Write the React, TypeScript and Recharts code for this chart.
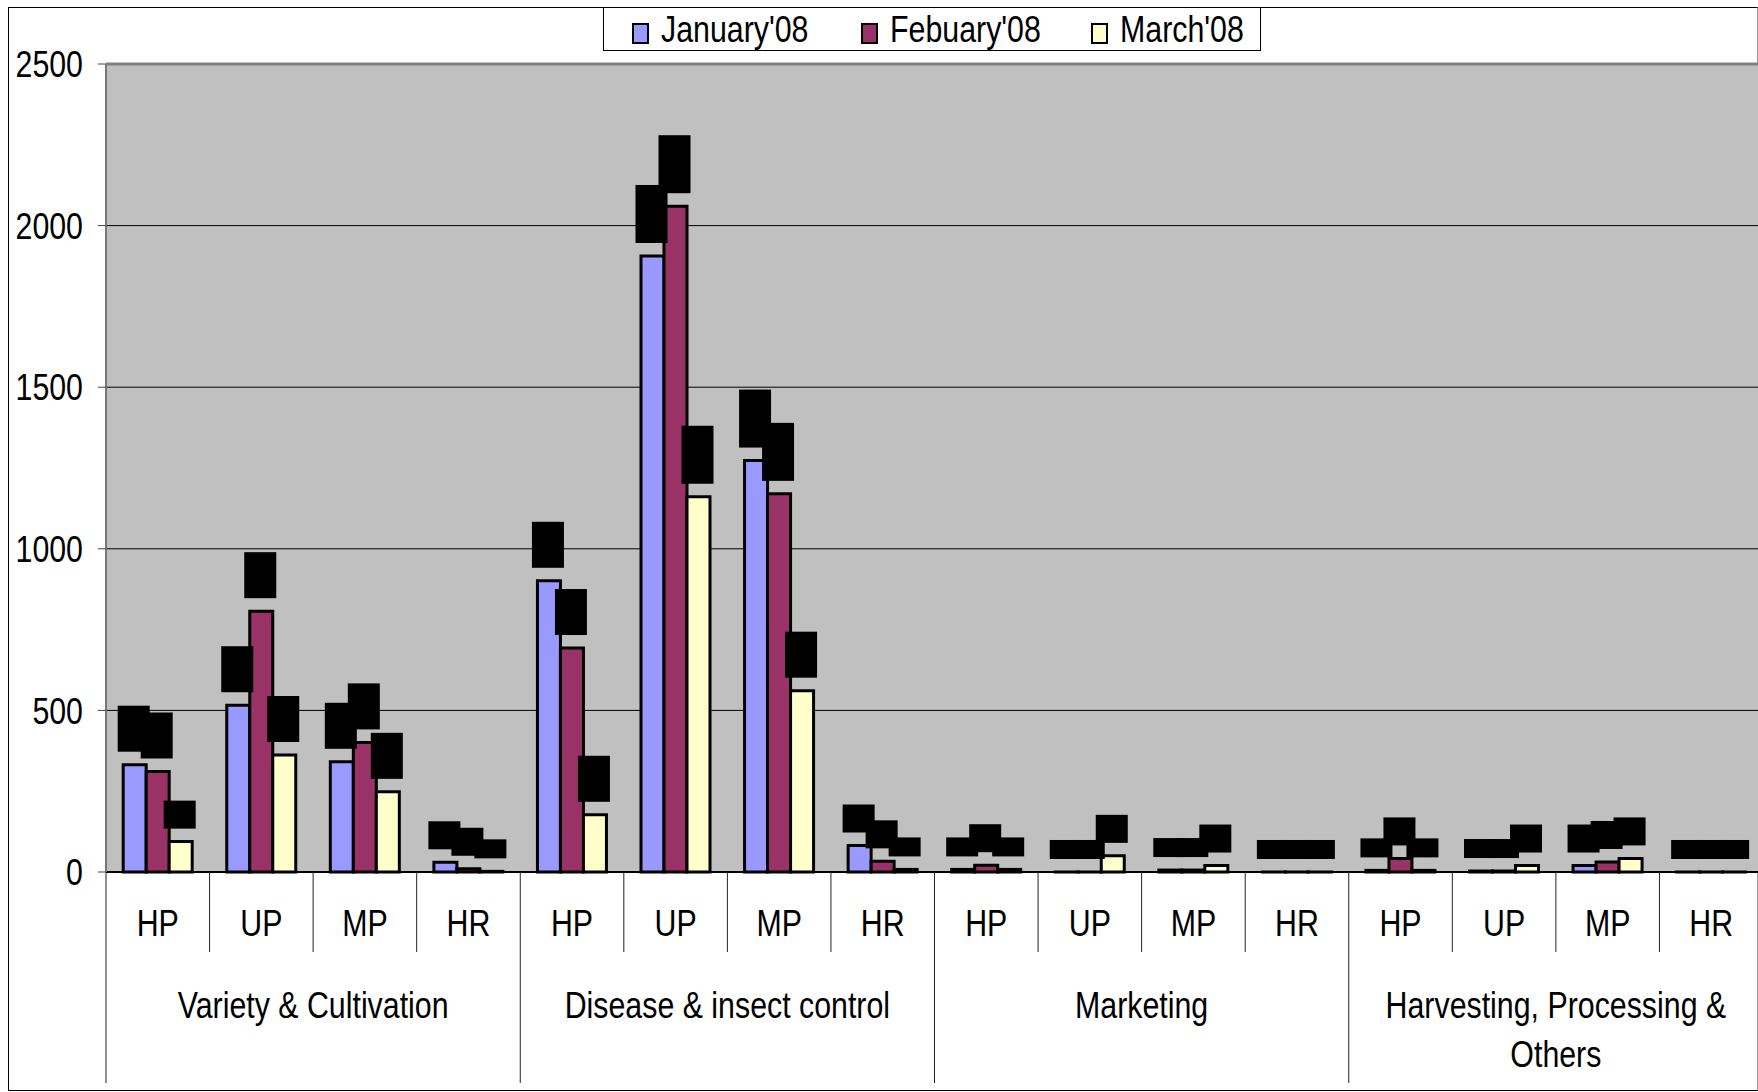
import React from "react";
import {
  BarChart,
  Bar,
  XAxis,
  YAxis,
  CartesianGrid,
  Legend,
  LabelList,
  ReferenceLine,
} from "recharts";

const groups = [
  "Variety & Cultivation",
  "Disease & insect control",
  "Marketing",
  "Harvesting, Processing & Others",
];
const regions = ["HP", "UP", "MP", "HR"];

const january = [332, 516, 341, 30, 901, 1906, 1273, 82, 8, 0, 6, 0, 5, 3, 20, 0];
const february = [311, 807, 401, 10, 693, 2060, 1170, 33, 21, 0, 6, 0, 42, 3, 31, 0];
const march = [94, 362, 248, 2, 177, 1161, 561, 8, 8, 50, 20, 0, 5, 20, 42, 0];

const yTicks = [0, 500, 1000, 1500, 2000, 2500];

const series = [
  { key: "jan", name: "January'08", color: "#9999FF" },
  { key: "feb", name: "Febuary'08", color: "#993366" },
  { key: "mar", name: "March'08", color: "#FFFFCC" },
];

const data = january.map((_, i) => ({
  key: `${groups[Math.floor(i / 4)]} ${regions[i % 4]}`,
  region: regions[i % 4],
  jan: january[i],
  feb: february[i],
  mar: march[i],
}));

// no narrow face installed, so Liberation Sans gets squeezed horizontally
const FONT = '"Liberation Sans", Arial, sans-serif';
const SQUEEZE = 0.82;
const FONT_SIZE = 37;

const WIDTH = 1758;
const HEIGHT = 1092;
// the plot runs a few pixels past the right edge of the page
const CHART_WIDTH = 1766;
const PLOT_LEFT = 106;
const PLOT_RIGHT = 1763;
const PLOT_TOP = 64;
const PLOT_BOTTOM = 872;
const BAND = (PLOT_RIGHT - PLOT_LEFT) / data.length;

const NarrowText = ({ x, y, anchor = "middle", children }: any) => (
  <text
    transform={`translate(${x} ${y}) scale(${SQUEEZE} 1)`}
    textAnchor={anchor}
    dominantBaseline="central"
    fontSize={FONT_SIZE}
    fontFamily={FONT}
    fill="#000"
  >
    {children}
  </text>
);

// greedy word wrap using an average glyph width of the squeezed font
const wrapLabel = (label: string, maxWidth: number) => {
  const lines: string[] = [];
  let line = "";
  label.split(" ").forEach((word) => {
    const next = line ? `${line} ${word}` : word;
    if (next.length * 15 > maxWidth && line) {
      lines.push(line);
      line = word;
    } else {
      line = next;
    }
  });
  lines.push(line);
  return lines;
};

// two-level category axis: region under each band, group name under every four
const CategoryTick = (props: any) => {
  const { x, index } = props;
  const half = BAND / 2;
  const endOfGroup = index % 4 === 3;
  return (
    <g>
      {index === 0 && (
        <line x1={x - half} x2={x - half} y1={PLOT_BOTTOM} y2={1083} stroke="#222" />
      )}
      <line
        x1={x + half}
        x2={x + half}
        y1={PLOT_BOTTOM}
        y2={endOfGroup ? 1083 : 952}
        stroke="#222"
      />
      <NarrowText x={x} y={923}>
        {data[index].region}
      </NarrowText>
      {index % 4 === 0 &&
        wrapLabel(groups[index / 4], BAND * 4 - 20).map((line, i) => (
          <NarrowText key={i} x={x + BAND * 1.5} y={1005 + i * 49}>
            {line}
          </NarrowText>
        ))}
    </g>
  );
};

// data labels are shown as solid black blocks above each bar
const LabelBlock = (props: any) => {
  const { x, y, width, value } = props;
  const digits = String(value).length;
  const h = digits >= 4 ? 58 : digits === 3 ? 46 : digits === 2 ? 28 : 19;
  return <rect x={x + width / 2 - 17} y={y - 13 - h} width={32} height={h} fill="#000" />;
};

const swatchLefts = [28, 257, 487];

const LegendBox = () => (
  <div
    style={{
      position: "relative",
      width: 658,
      height: 44,
      boxSizing: "border-box",
      border: "1px solid #000",
      background: "#fff",
      fontFamily: FONT,
      fontSize: FONT_SIZE,
      color: "#000",
    }}
  >
    {series.map((s, i) => (
      <React.Fragment key={s.key}>
        <div
          style={{
            position: "absolute",
            left: swatchLefts[i],
            top: 15,
            width: 17,
            height: 21,
            boxSizing: "border-box",
            border: "2px solid #000",
            background: s.color,
          }}
        />
        <div
          style={{
            position: "absolute",
            left: swatchLefts[i] + 29,
            top: 1,
            lineHeight: "42px",
            whiteSpace: "nowrap",
            transform: `scaleX(${SQUEEZE})`,
            transformOrigin: "left center",
          }}
        >
          {s.name}
        </div>
      </React.Fragment>
    ))}
  </div>
);

export default function App() {
  return (
    <div
      style={{
        position: "absolute",
        left: 0,
        top: 0,
        width: WIDTH,
        height: HEIGHT,
        background: "#fff",
        overflow: "hidden",
      }}
    >
      <div
        style={{
          position: "absolute",
          left: 8,
          top: 7,
          width: WIDTH - 8,
          height: 1084,
          boxSizing: "border-box",
          border: "1px solid #000",
          borderRightColor: "#999",
        }}
      />
      <div style={{ position: "absolute", left: 0, top: 0 }}>
        <BarChart
          width={CHART_WIDTH}
          height={HEIGHT}
          data={data}
          margin={{ top: PLOT_TOP, right: CHART_WIDTH - PLOT_RIGHT, bottom: 0, left: 0 }}
          barCategoryGap="16.6%"
          barGap={0}
        >
          <CartesianGrid vertical={false} stroke="#000" fill="#C0C0C0" fillOpacity={1} />
          <XAxis
            dataKey="key"
            interval={0}
            height={HEIGHT - PLOT_BOTTOM}
            tickLine={false}
            axisLine={{ stroke: "#000", strokeWidth: 2 }}
            tick={(props: any) => <CategoryTick {...props} />}
          />
          <YAxis
            width={PLOT_LEFT}
            domain={[0, 2500]}
            ticks={yTicks}
            interval={0}
            tickSize={8}
            tickMargin={15}
            axisLine={{ stroke: "#777", strokeWidth: 2 }}
            tickLine={{ stroke: "#444" }}
            tick={(p: any) => (
              <NarrowText x={p.x} y={p.y} anchor="end">
                {p.payload.value}
              </NarrowText>
            )}
          />
          <ReferenceLine y={2500} stroke="#808080" strokeWidth={3} />
          <Legend
            verticalAlign="middle"
            align="center"
            layout="horizontal"
            wrapperStyle={{ top: 7, left: 603, width: 658, height: 44 }}
            content={() => <LegendBox />}
          />
          {series.map((s) => (
            <Bar
              key={s.key}
              dataKey={s.key}
              name={s.name}
              fill={s.color}
              stroke="#000"
              strokeWidth={3}
              minPointSize={0.01}
              isAnimationActive={false}
            >
              <LabelList dataKey={s.key} content={(p: any) => <LabelBlock {...p} />} />
            </Bar>
          ))}
        </BarChart>
      </div>
    </div>
  );
}
